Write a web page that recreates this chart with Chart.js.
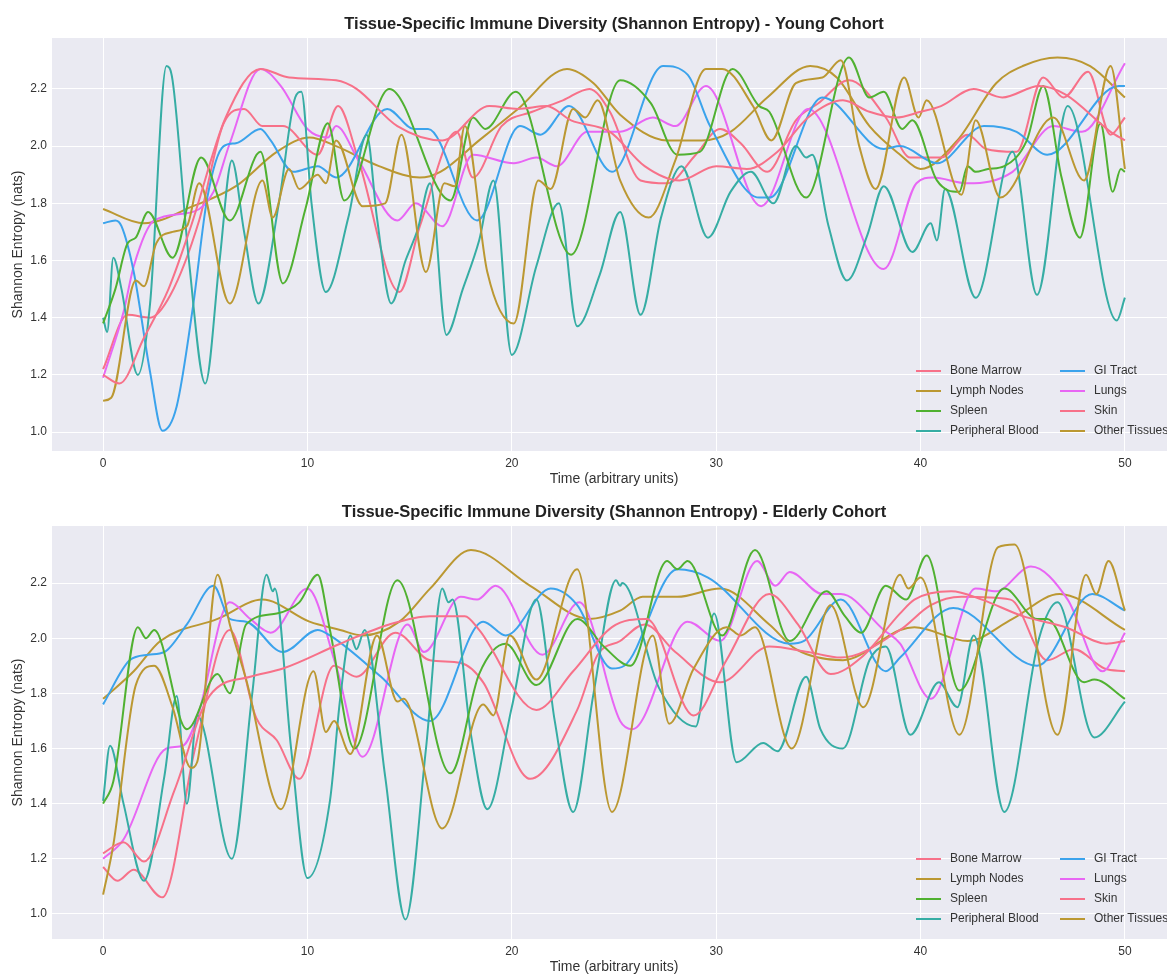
<!DOCTYPE html>
<html>
<head>
<meta charset="utf-8">
<script src="https://cdn.jsdelivr.net/npm/chart.js@4.4.1/dist/chart.umd.min.js"></script>
<style>
    body { margin: 0; background: #fff; overflow: hidden; width: 1167px; height: 976px; position: relative; }
    canvas { position: absolute; left: 0; }
    #chart-young { top: 0; }
    #chart-elderly { top: 488px; }
</style>
</head>
<body>
<canvas id="chart-young" width="1176" height="488"></canvas>
<canvas id="chart-elderly" width="1176" height="488"></canvas>
<script>
// categories
const tissues = ['Bone Marrow', 'Lymph Nodes', 'Spleen', 'Peripheral Blood', 'GI Tract', 'Lungs', 'Skin', 'Other Tissues'];
const xTicks = [0, 10, 20, 30, 40, 50];
const yTicks = [1.0, 1.2, 1.4, 1.6, 1.8, 2.0, 2.2];

// young cohort, [time, entropy]
const youngBoneMarrow = [[0,1.20],[0.8,1.17],[2,1.33],[3.2,1.50],[4.3,1.72],[6.0,2.10],[7.7,2.27],[9.1,2.24],[11.4,2.23],[12.4,2.20],[14.4,2.07],[16.6,2.02],[18.9,2.14],[20.3,2.13],[21.7,2.14],[22.9,2.09],[24.8,2.05],[26.5,1.93],[28.2,1.88],[30,1.93],[31.5,1.92],[33,1.98],[34.5,2.10],[36.2,2.16],[37.5,2.12],[38.8,2.10],[40,2.12],[41.0,2.14],[42.6,2.20],[44.0,2.17],[45.8,2.21],[47.1,2.18],[49.3,2.05],[50,2.02]];
const youngLymphNodes = [[0,1.11],[0.4,1.12],[1.6,1.53],[2.0,1.51],[2.6,1.66],[3.4,1.70],[4.1,1.72],[4.7,1.87],[6.2,1.45],[7.8,1.88],[8.3,1.75],[9.1,1.92],[9.6,1.85],[10.5,1.90],[10.9,1.87],[11.4,2.02],[12.7,1.79],[13.8,1.80],[14.6,2.04],[15.8,1.56],[16.7,1.87],[17.2,1.86],[17.7,2.07],[18.8,1.56],[20.1,1.38],[21.3,1.88],[21.9,1.85],[23.0,2.13],[23.6,2.10],[24.2,2.16],[25.3,1.88],[26.7,1.75],[28.0,1.95],[29.5,2.27],[30.3,2.27],[31.8,2.14],[32.7,2.02],[33.9,2.22],[35.2,2.24],[36.1,2.30],[37.0,2.00],[37.8,1.85],[39.2,2.24],[39.9,2.10],[40.3,2.16],[42.0,1.83],[42.7,2.09],[43.9,1.82],[46.5,2.10],[48.0,1.88],[49.3,2.28],[50,1.92]];
const youngSpleen = [[0,1.38],[0.6,1.50],[1.2,1.66],[1.6,1.68],[2.2,1.77],[3.4,1.61],[4.8,1.96],[6.2,1.74],[7.7,1.98],[8.8,1.52],[9.9,1.78],[11.0,2.08],[11.8,1.81],[14.0,2.20],[17.0,1.81],[18.1,2.10],[18.7,2.06],[20.2,2.19],[22.9,1.62],[25.3,2.23],[26.8,2.15],[28.1,1.97],[29.2,1.98],[30.8,2.27],[32.1,2.14],[32.6,2.12],[34.4,1.82],[36.5,2.31],[37.5,2.17],[38.2,2.19],[39.1,2.06],[39.6,2.09],[40.8,1.88],[41.9,1.84],[42.3,1.93],[42.7,1.91],[43.3,1.92],[44.1,1.93],[45.2,2.02],[46.0,2.21],[46.9,1.89],[47.8,1.68],[48.8,2.08],[49.4,1.84],[49.8,1.92],[50,1.91]];
const youngPeripheralBlood = [[0,1.40],[0.2,1.35],[0.5,1.61],[0.9,1.50],[1.7,1.20],[2.3,1.45],[3.1,2.28],[3.4,2.23],[4.2,1.60],[5.0,1.17],[5.7,1.60],[6.3,1.95],[6.9,1.70],[7.6,1.45],[8.6,1.80],[9.4,2.17],[9.7,2.19],[10.2,1.80],[10.9,1.49],[12.0,1.75],[12.9,2.04],[13.4,1.75],[14.1,1.45],[14.8,1.60],[15.4,1.71],[16.0,1.87],[16.8,1.34],[17.6,1.50],[18.4,1.67],[19.1,1.88],[20.0,1.27],[21.2,1.58],[22.3,1.80],[23.2,1.37],[24.3,1.55],[25.3,1.77],[26.3,1.41],[27.3,1.75],[28.3,1.93],[29.6,1.68],[30.7,1.84],[31.7,1.91],[32.8,1.80],[33.9,2.00],[34.4,1.96],[34.7,1.97],[35.5,1.72],[36.4,1.53],[37.4,1.69],[38.2,1.86],[39.6,1.63],[40.5,1.73],[40.8,1.67],[41.2,1.85],[42.7,1.47],[44.5,1.98],[45.7,1.48],[47.2,2.14],[49.6,1.39],[50,1.47]];
const youngGiTract = [[0,1.73],[0.6,1.74],[0.9,1.72],[1.5,1.56],[2.3,1.21],[2.9,1.005],[3.6,1.09],[4.4,1.44],[5.1,1.82],[5.9,2.00],[6.5,2.01],[7.7,2.06],[8.2,2.02],[9.3,1.91],[10.5,1.93],[11.4,1.89],[13.9,2.13],[15.2,2.06],[15.9,2.06],[18.3,1.74],[20.4,2.07],[21.4,2.04],[22.8,2.14],[24.9,1.91],[27.4,2.28],[28.6,2.25],[29.7,2.07],[32.1,1.82],[32.6,1.82],[35.2,2.17],[38.2,1.99],[39.0,2.00],[40.8,1.94],[43.1,2.07],[44.7,2.05],[46.2,1.97],[49.7,2.21],[50,2.21]];
const youngLungs = [[0,1.19],[1.0,1.42],[1.5,1.58],[2.5,1.74],[4.4,1.77],[5.4,1.84],[6.2,2.01],[7.7,2.27],[8.7,2.21],[10.0,2.06],[11.0,2.03],[11.4,2.07],[12.5,1.95],[14.4,1.74],[15.3,1.80],[16.6,1.72],[18.1,1.97],[20.1,1.94],[21.2,1.96],[22.2,1.93],[23.7,2.05],[25.3,2.05],[26.9,2.10],[28.0,2.07],[29.5,2.21],[32.2,1.79],[34.5,2.13],[38.2,1.57],[39.8,1.87],[40.6,1.89],[42.3,1.87],[44.5,1.91],[46.5,2.07],[47.9,2.05],[50,2.29]];
const youngSkin = [[0,1.22],[1.2,1.41],[2.3,1.40],[3.3,1.48],[4.7,1.74],[5.9,2.08],[6.9,2.13],[7.8,2.07],[8.8,2.07],[10.5,1.97],[11.5,2.14],[12.5,1.95],[14.5,1.49],[15.5,1.72],[17.3,2.05],[18.1,1.89],[19.5,2.07],[21,2.12],[22.5,2.16],[23.8,2.20],[24.8,2.12],[26.3,1.88],[27.6,1.87],[29,1.97],[30.2,2.06],[31.2,2.01],[32.5,1.91],[33.9,2.09],[35,2.15],[36.5,2.23],[38.3,2.10],[39.5,1.96],[41.0,1.96],[42.3,2.04],[43.2,1.99],[44.7,1.98],[46.0,2.24],[47.0,2.17],[48.2,2.26],[49.3,2.04],[50,2.10]];
const youngOtherTissues = [[0,1.78],[2.0,1.73],[4.4,1.79],[6.5,1.86],[8.5,1.98],[10.1,2.03],[11.4,2.00],[13.5,1.93],[15.5,1.89],[16.5,1.91],[18.4,2.02],[20.3,2.13],[22.7,2.27],[24.0,2.22],[25.3,2.11],[27.6,2.02],[29.3,2.02],[30.7,2.05],[32.5,2.17],[34.6,2.28],[35.9,2.24],[37.5,2.07],[39,1.97],[40,1.92],[41.8,2.02],[43.7,2.22],[45,2.28],[46.7,2.31],[48.3,2.28],[50,2.17]];

// elderly cohort
const elderlyBoneMarrow = [[0,1.22],[1.0,1.26],[2.0,1.19],[3.5,1.45],[5.2,1.79],[7.2,1.86],[8.8,1.89],[11.6,1.98],[14,2.05],[16.0,2.08],[17.7,2.08],[18.4,2.03],[21.2,1.74],[23,1.88],[24.9,2.04],[26.6,2.07],[28.9,1.72],[30.5,1.92],[32.6,2.16],[34,2.05],[35.6,1.87],[37.1,1.93],[39,2.09],[39.7,2.14],[41.5,2.17],[43,2.14],[45,2.08],[47.1,2.04],[49.1,1.98],[50,1.99]];
const elderlyLymphNodes = [[0,1.07],[0.5,1.25],[1.6,1.83],[2.5,1.90],[3.4,1.75],[4.3,1.53],[4.6,1.55],[5.6,2.23],[6.2,2.05],[7.0,1.85],[8.7,1.38],[10.3,1.88],[10.9,1.66],[11.3,1.70],[12.1,1.58],[13.4,2.01],[14.4,1.77],[14.7,1.78],[16.6,1.31],[18.6,1.76],[19.1,1.72],[19.9,2.01],[21.2,1.85],[23.2,2.25],[24.9,1.37],[26.9,2.01],[27.7,1.69],[28.9,1.89],[30.5,2.04],[31.2,2.01],[31.9,2.04],[33.7,1.60],[35.6,2.12],[37.2,1.75],[39,2.23],[39.4,2.18],[40.0,2.22],[41.9,1.65],[43.8,2.33],[44.6,2.34],[46.7,1.65],[48.1,2.23],[48.6,2.16],[49.2,2.28],[50,2.10]];
const elderlySpleen = [[0,1.40],[0.5,1.48],[1.7,2.04],[2.1,2.00],[2.5,2.03],[4.1,1.67],[5.6,1.87],[6.2,1.80],[7.0,2.05],[8.5,2.09],[9.6,2.13],[10.5,2.23],[11.1,2.03],[12.3,1.60],[14.4,2.21],[17.0,1.51],[18.4,1.87],[19.7,1.98],[21.2,1.83],[23.2,2.07],[24.5,1.97],[25.8,1.90],[27.6,2.28],[28.1,2.25],[28.6,2.28],[30.3,2.01],[31.9,2.32],[33.6,1.99],[35.4,2.17],[36.3,2.08],[37.1,2.02],[38.3,2.19],[39.3,2.14],[40.3,2.30],[41.9,1.81],[44.1,2.18],[45.7,2.07],[46.2,2.07],[48.0,1.84],[48.5,1.85],[50,1.78]];
const elderlyPeripheralBlood = [[0,1.41],[0.34,1.61],[1.0,1.40],[2.0,1.12],[3.0,1.50],[3.6,1.79],[4.1,1.40],[4.6,1.72],[6.3,1.20],[7.3,1.80],[8.0,2.23],[8.3,2.17],[8.4,2.18],[9.2,1.60],[10.0,1.13],[11.1,1.41],[11.6,1.78],[12.1,2.01],[12.4,1.96],[12.8,2.03],[13.8,1.50],[14.8,0.98],[15.8,1.60],[16.6,2.18],[16.9,2.13],[17.1,2.14],[18.0,1.65],[18.8,1.38],[20.0,1.75],[21.2,2.14],[22.1,1.70],[23.0,1.37],[24.0,1.80],[25.1,2.21],[25.3,2.19],[25.4,2.20],[27.2,1.82],[29.0,1.68],[29.9,2.09],[31.0,1.55],[32.3,1.62],[33.0,1.59],[34.4,1.86],[35.1,1.67],[36.2,1.60],[37.5,1.92],[38.3,1.97],[39.5,1.65],[40.9,1.84],[41.8,1.75],[42.6,2.01],[44.1,1.37],[45.8,2.00],[46.7,2.13],[48.5,1.64],[50,1.77]];
const elderlyGiTract = [[0,1.76],[1.3,1.92],[2.2,1.94],[3.0,1.95],[4.1,2.05],[5.4,2.19],[6.2,2.07],[7.0,2.06],[8.8,1.95],[10.5,2.03],[11.1,2.01],[13.6,1.86],[16.0,1.70],[18.6,2.06],[19.7,2.01],[21.9,2.18],[23.2,2.12],[24.9,1.89],[25.5,1.90],[28.1,2.25],[29.6,2.22],[33.6,1.98],[34.3,1.99],[36.1,2.14],[38.3,1.88],[39,1.93],[41.6,2.11],[45.7,1.90],[48.4,2.16],[50,2.10]];
const elderlyLungs = [[0,1.20],[1.0,1.27],[3.1,1.60],[3.9,1.61],[4.6,1.71],[6.2,2.13],[7.2,2.07],[8.2,2.02],[10.0,2.18],[11.4,1.90],[12.7,1.57],[14.9,2.05],[15.7,1.95],[17.5,2.15],[18.3,2.14],[19.2,2.19],[21.5,1.94],[23.3,2.13],[25.3,1.70],[25.9,1.67],[28.6,2.06],[30.2,1.99],[32.0,2.28],[32.9,2.19],[33.6,2.24],[35.2,2.16],[36.1,2.16],[38.2,2.03],[39,1.98],[40.5,1.78],[42.7,2.18],[43.7,2.17],[45.4,2.26],[47.2,2.14],[48.9,1.88],[50,2.02]];
const elderlySkin = [[0,1.17],[0.7,1.12],[1.5,1.16],[2.9,1.06],[4.5,1.60],[6.2,2.03],[7.5,1.71],[8.5,1.63],[9.6,1.49],[11.3,1.90],[12.4,1.86],[14.3,2.02],[16.0,1.92],[17.5,1.91],[18.6,1.84],[20.9,1.49],[23.2,1.74],[24.2,1.94],[25.3,1.99],[26.5,2.05],[28,1.95],[30.2,1.84],[32.6,1.97],[34.5,1.95],[36.1,1.93],[39,2.03],[40.5,2.12],[42.0,2.15],[44.4,2.14],[46.2,1.92],[47.5,1.96],[49.0,1.89],[50,1.88]];
const elderlyOtherTissues = [[0,1.78],[1.5,1.88],[2.8,1.99],[5.6,2.07],[7.8,2.14],[10.1,2.06],[11.6,2.03],[12.7,2.01],[14.5,2.06],[16,2.18],[18.0,2.32],[20.9,2.19],[23.8,2.07],[25.3,2.10],[26.4,2.15],[28.1,2.15],[30.2,2.18],[32.6,2.05],[33.9,1.96],[36.2,1.92],[39.0,2.03],[39.7,2.04],[42.3,1.99],[44.5,2.07],[46.8,2.16],[50,2.03]];

const youngSeries = [youngBoneMarrow, youngLymphNodes, youngSpleen, youngPeripheralBlood, youngGiTract, youngLungs, youngSkin, youngOtherTissues];
const elderlySeries = [elderlyBoneMarrow, elderlyLymphNodes, elderlySpleen, elderlyPeripheralBlood, elderlyGiTract, elderlyLungs, elderlySkin, elderlyOtherTissues];

// husl palette, 6 colours, cycled
const palette = ['#f77189', '#bb9832', '#50b131', '#36ada4', '#3ba3ec', '#e866f4'];
const textColor = '#333';

Chart.defaults.font.family = "'Liberation Sans', Arial, sans-serif";
Chart.defaults.color = textColor;

const plotBackground = {
    id: 'plotBackground',
    beforeDraw(chart) {
        const { ctx, chartArea: a } = chart;
        ctx.save();
        ctx.fillStyle = '#fff';
        ctx.fillRect(0, 0, chart.width, chart.height);
        ctx.fillStyle = '#eaeaf2';
        ctx.fillRect(a.left, a.top, a.right - a.left, a.bottom - a.top);
        ctx.restore();
    }
};

// title centred over the plot area (not the whole canvas), like matplotlib does
const plotTitle = {
    id: 'plotTitle',
    afterDraw(chart, args, opts) {
        const { ctx, chartArea: a } = chart;
        ctx.save();
        ctx.font = "bold 16.5px 'Liberation Sans', Arial, sans-serif";
        ctx.fillStyle = '#222';
        ctx.textAlign = 'center';
        ctx.textBaseline = 'middle';
        ctx.fillText(opts.text, (a.left + a.right) / 2, 24);
        ctx.restore();
    }
};

// two-column legend in the lower right of the plot
const insideLegend = {
    id: 'insideLegend',
    afterDatasetsDraw(chart) {
        const { ctx, chartArea: a } = chart;
        ctx.save();
        ctx.font = "12px 'Liberation Sans', Arial, sans-serif";
        ctx.textBaseline = 'middle';
        ctx.textAlign = 'left';
        chart.data.datasets.forEach((ds, i) => {
            const col = Math.floor(i / 4);
            const row = i % 4;
            const x = a.left + 864 + col * 144;
            const y = a.bottom - 80 + row * 20;
            ctx.strokeStyle = ds.borderColor;
            ctx.lineWidth = 2;
            ctx.beginPath();
            ctx.moveTo(x, y);
            ctx.lineTo(x + 25, y);
            ctx.stroke();
            ctx.fillStyle = textColor;
            ctx.fillText(ds.label, x + 34, y);
        });
        ctx.restore();
    }
};

function drawCohort(canvasId, title, series, yMin, yMax) {
    const datasets = series.map((pts, i) => ({
        label: tissues[i],
        data: pts.map(p => ({ x: p[0], y: p[1] })),
        borderColor: palette[i % palette.length],
        borderWidth: 2,
        pointRadius: 0,
        fill: false,
        cubicInterpolationMode: 'monotone'
    }));

    return new Chart(document.getElementById(canvasId), {
        type: 'line',
        data: { datasets },
        plugins: [plotBackground, insideLegend, plotTitle],
        options: {
            responsive: false,
            animation: false,
            devicePixelRatio: 1,
            layout: { padding: { left: 0, top: 38, bottom: 0, right: 0 } },
            plugins: {
                legend: { display: false },
                tooltip: { enabled: false },
                title: { display: false },
                plotTitle: { text: title }
            },
            scales: {
                x: {
                    type: 'linear',
                    min: -2.5,
                    max: 52.5,
                    border: { display: false },
                    grid: { color: '#ffffff', lineWidth: 1, drawTicks: false },
                    afterBuildTicks: s => { s.ticks = xTicks.map(v => ({ value: v })); },
                    afterFit: s => { s.height = 37; },
                    ticks: { padding: 5, font: { size: 12 }, color: textColor, maxRotation: 0, callback: v => String(v) },
                    title: { display: true, text: 'Time (arbitrary units)', font: { size: 14 }, color: textColor, padding: { top: 0, bottom: 0 } }
                },
                y: {
                    min: yMin,
                    max: yMax,
                    border: { display: false },
                    grid: { color: '#ffffff', lineWidth: 1, drawTicks: false },
                    afterBuildTicks: s => { s.ticks = yTicks.map(v => ({ value: v })); },
                    afterFit: s => { s.width = 52; },
                    ticks: { padding: 5, font: { size: 12 }, color: textColor, callback: v => v.toFixed(1) },
                    title: { display: true, text: 'Shannon Entropy (nats)', font: { size: 14 }, color: textColor, padding: { top: 10, bottom: 0 } }
                }
            }
        }
    });
}

drawCohort('chart-young', 'Tissue-Specific Immune Diversity (Shannon Entropy) - Young Cohort', youngSeries, 0.934, 2.378);
drawCohort('chart-elderly', 'Tissue-Specific Immune Diversity (Shannon Entropy) - Elderly Cohort', elderlySeries, 0.909, 2.407);
</script>
</body>
</html>
